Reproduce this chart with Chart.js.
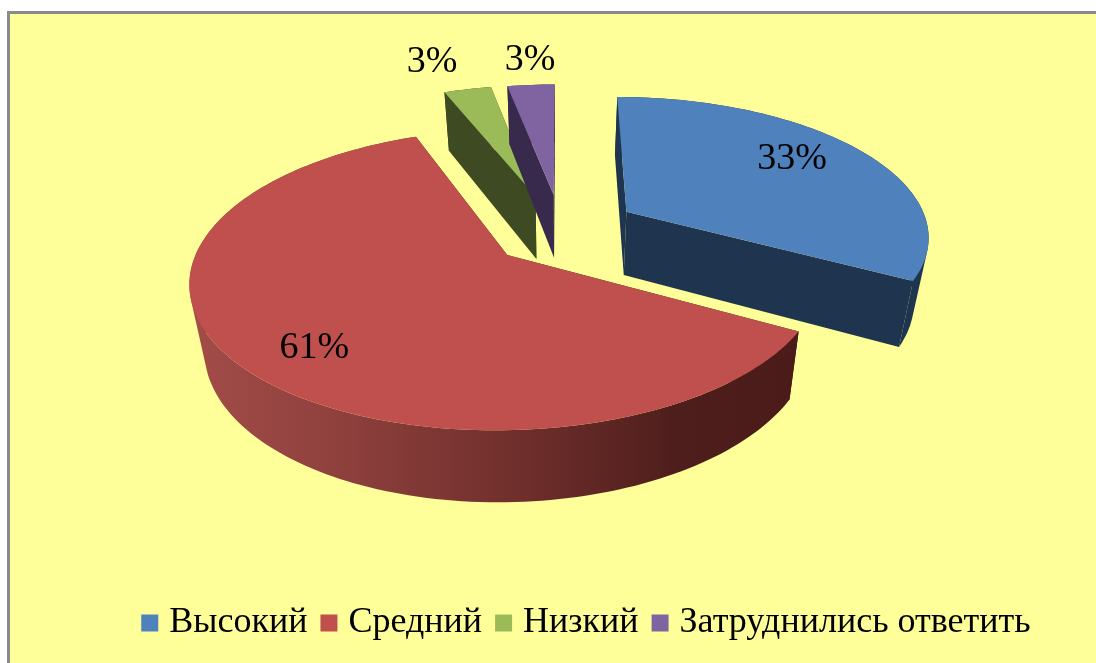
<!DOCTYPE html>
<html><head><meta charset="utf-8">
<style>html,body{margin:0;padding:0;background:#fff;overflow:hidden}canvas{display:block}</style>
<script src="https://cdn.jsdelivr.net/npm/chart.js@4"></script></head>
<body><div style="width:1096px;height:663px;position:relative"><canvas id="c" width="1096" height="663"></canvas></div>
<script>
const categories = ['Высокий','Средний','Низкий','Затруднились ответить'];
const shares = [33,61,3,3];
const topColors = ['#4F81BD','#C0504D','#9BBB59','#8064A2'];
const wallColors = ['#1F344F','#4A1B19','#3E4A22','#372A4D'];
const labelText = ['33%','61%','3%','3%'];
const labelRadius = [0.74,0.775,1.356,1.29];
const labelAngle = [53.5,223,339.8,354.9];
const sliceNudge = [-5,5,-7,-3];

const VIEW = {x:564,y:230,rx:303,ry:138.5,k:0.16};
const FLOOR = {x:564,y:294,rx:291,ry:144,k:0.16};

function project(p,u,v,dx){const w=1-p.k*v;return [p.x+(dx||0)+p.rx*u/w,p.y+p.ry*v/w];}
function geom(a){
  const R=a.outerRadius,mid=(a.startAngle+a.endAngle)/2,d=(a.options.offset||0)/R;
  return {cu:Math.cos(mid)*d,cv:Math.sin(mid)*d,s:a.startAngle,e:a.endAngle};
}
function rim(g,p,dx){
  const pts=[],n=Math.max(8,Math.ceil((g.e-g.s)*40));
  for(let i=0;i<=n;i++){const t=g.s+(g.e-g.s)*i/n;pts.push(project(p,g.cu+Math.cos(t),g.cv+Math.sin(t),dx));}
  return pts;
}
function area(pts){let s=0;pts.forEach((q,i)=>{const r=pts[(i+1)%pts.length];s+=q[0]*r[1]-r[0]*q[1];});return s;}
function trace(ctx,pts){const o=area(pts)<0?pts.slice().reverse():pts;o.forEach((q,i)=>i?ctx.lineTo(q[0],q[1]):ctx.moveTo(q[0],q[1]));ctx.closePath();}
function poly(ctx,pts,fill){ctx.beginPath();trace(ctx,pts);ctx.fillStyle=fill;ctx.fill();}

const frame = {id:'frame',beforeDraw(c){const x=c.ctx;
  x.save();x.fillStyle='#FFFF99';x.fillRect(8,12,c.width,c.height);
  x.fillStyle='#8A8A8A';x.fillRect(7,11,c.width,3);x.fillRect(7,11,3,c.height);x.restore();}};

const pie3d = {id:'pie3d',
  beforeDatasetDraw(c){
    const ctx=c.ctx,arcs=c.getDatasetMeta(0).data;
    ctx.save();
    [2,3,0,1].forEach(i=>{
      const dx=sliceNudge[i],g=geom(arcs[i]),top=rim(g,VIEW,dx),bot=rim(g,FLOOR,dx);
      const A=project(VIEW,g.cu,g.cv,dx),B=project(FLOOR,g.cu,g.cv,dx);
      poly(ctx,[A,top[0],bot[0],B],wallColors[i]);
      poly(ctx,[A,top[top.length-1],bot[bot.length-1],B],wallColors[i]);
      let fill=wallColors[i];
      if(i===1){const gr=ctx.createLinearGradient(190,0,800,0);
        gr.addColorStop(0,'#A34C48');gr.addColorStop(0.25,'#8E403D');gr.addColorStop(0.55,'#6E2E2B');gr.addColorStop(0.8,'#4E1E1C');gr.addColorStop(1,'#4A1B19');fill=gr;}
      ctx.beginPath();
      for(let j=0;j<top.length-1;j++) trace(ctx,[top[j],top[j+1],bot[j+1],bot[j]]);
      ctx.fillStyle=fill;ctx.fill();
      poly(ctx,[A].concat(top),topColors[i]);
    });
    ctx.fillStyle='#000';ctx.font='38px "Liberation Serif"';ctx.textAlign='center';ctx.textBaseline='middle';
    arcs.forEach((a,i)=>{
      const g=geom(a),t=labelAngle[i]*Math.PI/180,r=labelRadius[i];
      const q=project(VIEW,g.cu+r*Math.sin(t),g.cv-r*Math.cos(t));
      ctx.fillText(labelText[i],q[0],q[1]+2);
    });
    ctx.restore();
    return false;
  }};

new Chart(document.getElementById('c'),{
  type:'pie',
  data:{labels:categories,datasets:[{data:shares,backgroundColor:topColors,borderWidth:0,radius:303,offset:80}]},
  options:{responsive:false,animation:false,events:[],
    layout:{padding:{left:83,right:0,top:0,bottom:12}},
    plugins:{tooltip:{enabled:false},
      legend:{position:'bottom',labels:{font:{family:'"Liberation Serif"',size:36},color:'#000',
        usePointStyle:true,pointStyle:'rect',boxWidth:3,boxHeight:17,padding:20}}}},
  plugins:[frame,pie3d]
});
</script></body></html>
